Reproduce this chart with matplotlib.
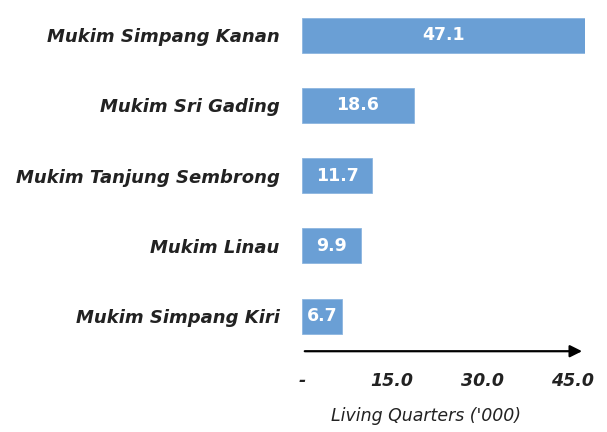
import matplotlib.pyplot as plt

mukims = ["Mukim Simpang Kanan", "Mukim Sri Gading", "Mukim Tanjung Sembrong",
          "Mukim Linau", "Mukim Simpang Kiri"]
quarters = [47.1, 18.6, 11.7, 9.9, 6.7]
tick_vals = [0, 15, 30, 45]
tick_text = ["-", "15.0", "30.0", "45.0"]

fig = plt.figure(figsize=(6.07, 4.32), dpi=100)
ax = fig.add_axes([0.4975, 0.187, 0.466, 0.813])

pos = list(range(len(mukims)))
bars = ax.barh(pos, quarters, height=0.5, color="#6a9fd5", edgecolor="#8cb6e0", linewidth=0.6)
ax.set_ylim(len(mukims) - 0.5, -0.5)
ax.set_xlim(0, 47.1)

for b, v in zip(bars, quarters):
    ax.text(b.get_width() / 2, b.get_y() + b.get_height() / 2, f"{v:.1f}",
            ha="center", va="center", color="white", fontsize=12.5,
            fontweight="bold")

ax.set_yticks(pos)
ax.set_yticklabels(mukims, fontsize=13, fontweight="bold", fontstyle="italic", color="#222222")
ax.set_xticks(tick_vals)
ax.set_xticklabels(tick_text, fontsize=12.5, fontweight="bold", fontstyle="italic", color="#222222")
ax.tick_params(axis="y", length=0, pad=16)
ax.tick_params(axis="x", length=0, pad=15)

for s in ax.spines.values():
    s.set_visible(False)

# axis line with arrow head
ax.annotate("", xy=(1.0, 0.0), xytext=(0.0, 0.0), xycoords="axes fraction",
            arrowprops=dict(arrowstyle="-|>", color="black", lw=1.6, mutation_scale=18))

ax.set_xlabel("Living Quarters ('000)", fontsize=12.5, fontstyle="italic",
              color="#222222", labelpad=12, x=0.44)

fig.savefig("out.png", dpi=100)
